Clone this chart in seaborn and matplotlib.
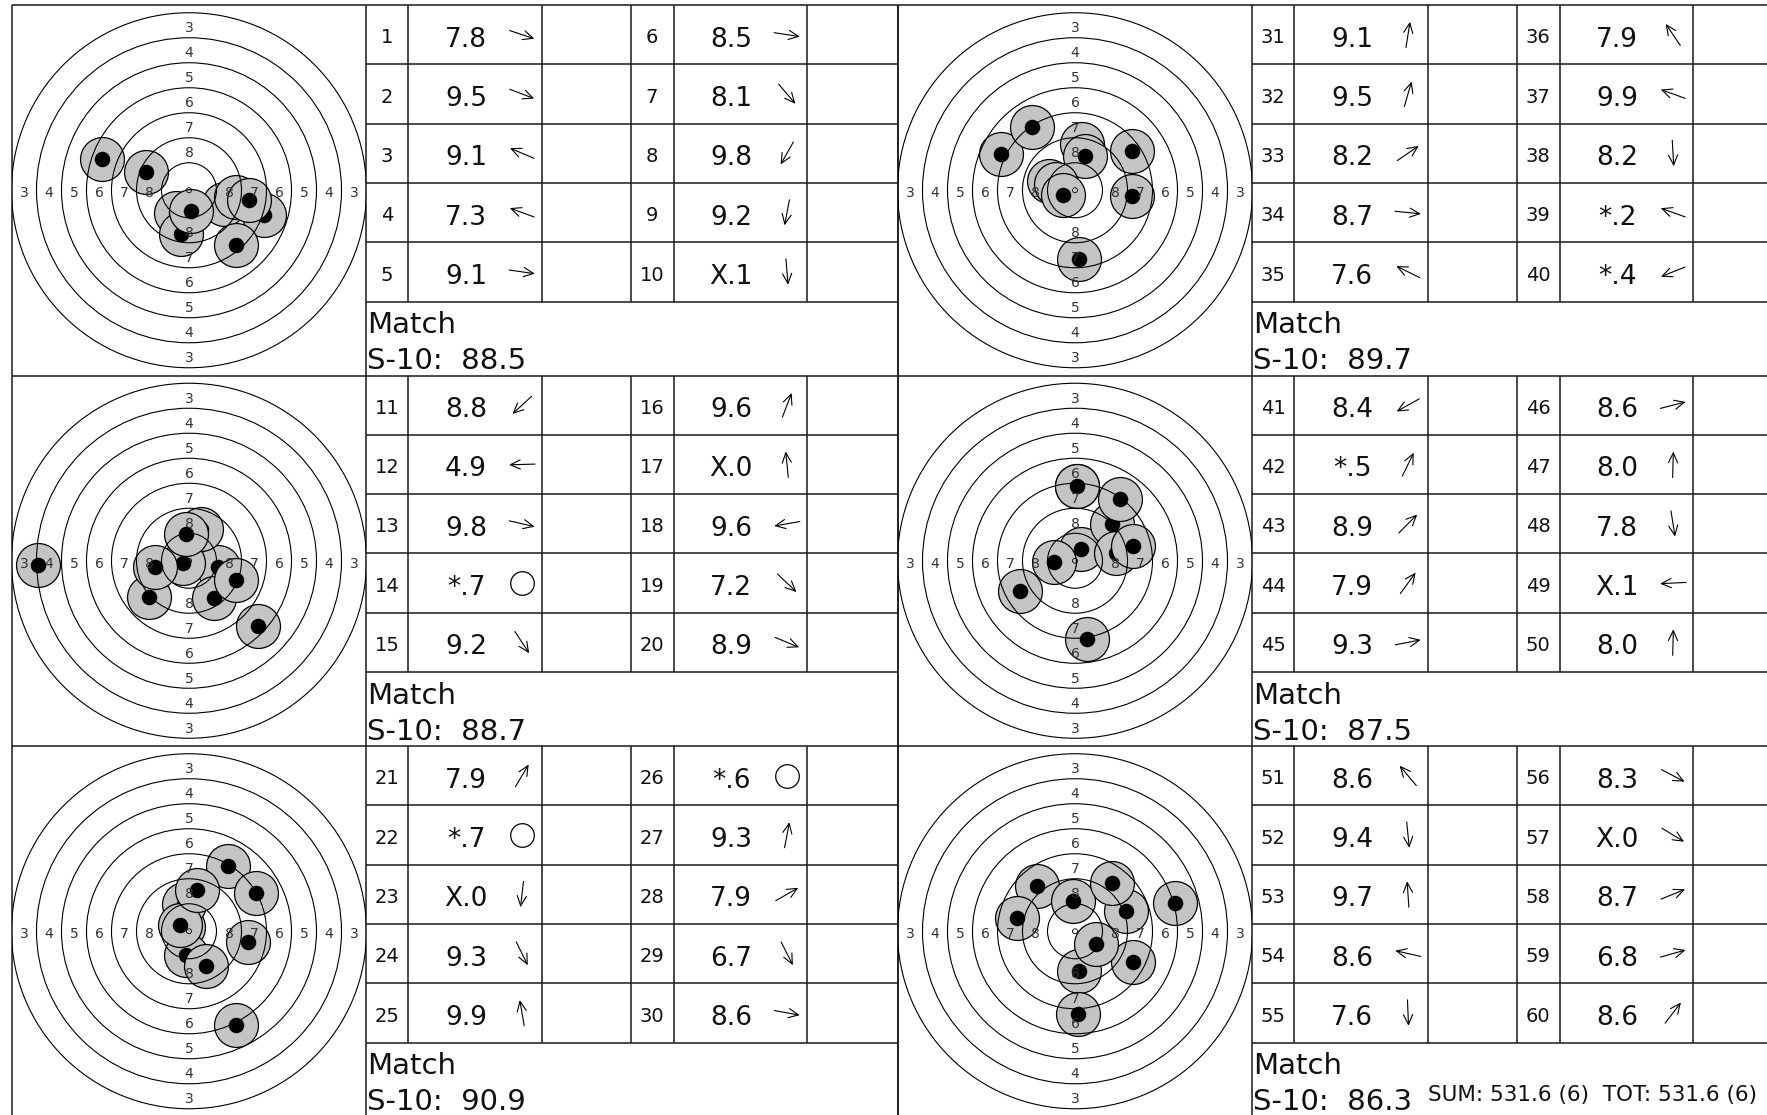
import numpy as np
import matplotlib
matplotlib.use("Agg")
import matplotlib.pyplot as plt
from matplotlib.patches import Circle
import seaborn as sns

# printed shot values (X = ten, * = inner ten)
SCORES = [
    "7.8", "9.5", "9.1", "7.3", "9.1", "8.5", "8.1", "9.8", "9.2", "X.1",
    "8.8", "4.9", "9.8", "*.7", "9.2", "9.6", "X.0", "9.6", "7.2", "8.9",
    "7.9", "*.7", "X.0", "9.3", "9.9", "*.6", "9.3", "7.9", "6.7", "8.6",
    "9.1", "9.5", "8.2", "8.7", "7.6", "7.9", "9.9", "8.2", "*.2", "*.4",
    "8.4", "*.5", "8.9", "7.9", "9.3", "8.6", "8.0", "7.8", "X.1", "8.0",
    "8.6", "9.4", "9.7", "8.6", "7.6", "8.3", "X.0", "8.7", "6.8", "8.6",
]
# hit positions, mm from target centre (x right, y up)
SHOT_X = [
    7.5, 3.5, -4.33, -8.67, 4.67, 6.0, 4.67, -1.3, -0.83, 0.17,
    -4.0, -15.1, 2.9, -0.6, 2.47, 1.23, -0.27, -3.43, 6.9, 4.67,
    3.9, -0.6, -0.27, 1.73, -0.47, -0.9, 0.8, 6.67, 4.73, 5.9,
    0.73, 1.0, 5.73, 5.73, -7.43, -4.27, -2.57, 0.4, -1.87, -1.17,
    -5.5, 0.57, 3.67, 4.5, 4.1, 5.8, 0.23, 1.23, -2.1, 0.17,
    -3.83, 0.4, -0.2, -5.77, 0.33, 5.8, 2.07, 5.13, 10.0, 3.67,
]
SHOT_Y = [
    -2.5, -1.33, 1.83, 3.17, -0.67, -0.93, -5.5, -2.3, -4.33, -2.07,
    -3.67, -0.43, -0.67, -0.27, -3.76, 3.17, 2.67, -0.6, -6.54, -1.93,
    6.5, 0.45, -2.33, -3.5, 2.7, 0.65, 4.17, 3.83, -9.33, -1.07,
    4.6, 3.43, 3.93, -0.57, 3.67, 6.33, 0.93, -6.9, 0.67, -0.47,
    -3.07, 1.17, 3.67, 6.17, 0.8, 1.5, 7.5, -7.83, -0.1, 7.45,
    4.57, -3.98, 3.03, 1.3, -8.3, -3.03, -1.27, 2.07, 2.87, 4.8,
]
SERIES_LABEL = "Match"
RING_NUMBERS = [3, 4, 5, 6, 7, 8]

sns.set_theme(style="white")
plt.rcParams["font.family"] = ["DejaVu Sans"]

W, H = 1767, 1115
PANEL_W, PANEL_H, TGT_W = 886, 370.5, 354
ROW_H = 59.3
COLS = [0, 42, 176, 265, 308, 441, 532]
ORIGINS = [(12, 5), (12, 375.5), (12, 746), (898, 5), (898, 375.5), (898, 746)]
LINE = dict(color="#1a1a1a", lw=1.1, solid_capstyle="butt")


def score_value(s):
    return float(s.replace("X", "10").replace("*", "10"))


def ring_radius(n):
    return 0.25 + (10 - n) * 2.5


fig = plt.figure(figsize=(W / 100, H / 100), dpi=100)
bg = fig.add_axes([0, 0, 1, 1])
bg.set_xlim(0, W)
bg.set_ylim(H, 0)
bg.axis("off")

totals = []
for k, (x0, y0) in enumerate(ORIGINS):
    tx = x0 + TGT_W
    # panel frame
    bg.plot([x0, x0], [y0, y0 + PANEL_H], **LINE)
    bg.plot([x0, x0 + PANEL_W], [y0, y0], **LINE)
    bg.plot([tx, tx], [y0, y0 + PANEL_H], **LINE)
    bg.plot([x0 + PANEL_W] * 2, [y0, y0 + PANEL_H], **LINE)
    for c in COLS[1:-1]:
        bg.plot([tx + c] * 2, [y0, y0 + 5 * ROW_H], **LINE)
    for r in range(1, 6):
        bg.plot([tx, tx + COLS[-1]], [y0 + r * ROW_H] * 2, **LINE)

    # table of shots
    for i in range(10):
        n = k * 10 + i
        base = tx + (COLS[3] if i >= 5 else 0)
        yc = y0 + (i % 5) * ROW_H + ROW_H / 2
        bg.text(base + 21, yc + 8.7, str(n + 1), ha="center", va="baseline",
                fontsize=14, color="#111")
        bg.text(base + 100, yc + 12, SCORES[n], ha="center", va="baseline",
                fontsize=19, color="#111")
        ax_c = base + 156
        if score_value(SCORES[n]) >= 10.6:
            bg.plot(ax_c, yc, marker="o", ms=17, mfc="none", mec="black", mew=0.9)
        else:
            th = np.arctan2(SHOT_Y[n], SHOT_X[n])
            L = 26
            dx, dy = np.cos(th) * L / 2, -np.sin(th) * L / 2
            bg.annotate("", xy=(ax_c + dx, yc + dy), xytext=(ax_c - dx, yc - dy),
                        arrowprops=dict(arrowstyle="->,head_length=0.65,head_width=0.3",
                                        lw=0.8, color="black", shrinkA=0, shrinkB=0,
                                        mutation_scale=11))

    total = sum(score_value(s) for s in SCORES[k * 10:(k + 1) * 10])
    totals.append(total)
    bg.text(tx + 1, y0 + 328, SERIES_LABEL, ha="left", va="baseline",
            fontsize=21, color="#111")
    bg.text(tx + 1, y0 + 364, f"S-10:  {total:.1f}", ha="left", va="baseline",
            fontsize=21, color="#111")

    # target
    ax = fig.add_axes([x0 / W, 1 - (y0 + PANEL_H) / H, TGT_W / W, PANEL_H / H])
    ax.set_xlim(-TGT_W / 20, TGT_W / 20)
    ax.set_ylim(-PANEL_H / 20, PANEL_H / 20)
    ax.axis("off")
    ax.patch.set_alpha(0)
    for n in range(k * 10, (k + 1) * 10):
        sns.scatterplot(x=[SHOT_X[n]], y=[SHOT_Y[n]], s=1000, color="#c4c4c4",
                        edgecolor="black", linewidth=0.9, ax=ax, zorder=2, legend=False)
        sns.scatterplot(x=[SHOT_X[n]], y=[SHOT_Y[n]], s=125, color="black",
                        linewidth=0, ax=ax, zorder=2, legend=False)
    for n in range(3, 10):
        ax.add_patch(Circle((0, 0), ring_radius(n), fill=False, lw=0.8,
                            ec="black", zorder=5))
    ax.add_patch(Circle((0, 0), 0.25, fill=False, lw=0.6, ec="black", zorder=5))
    for n in RING_NUMBERS:
        r = ring_radius(n) - 1.25
        for px, py in [(-r, 0), (r, 0), (0, r), (0, -r)]:
            ax.text(px, py - 0.3, str(n), ha="center", va="center",
                    fontsize=10, color="#333", zorder=6)

grand = sum(totals)
bg.text(1428, 1101, f"SUM: {grand:.1f} ({len(totals)})  TOT: {grand:.1f} ({len(totals)})",
        ha="left", va="baseline", fontsize=15.5, color="#111")

fig.savefig("out.png", dpi=100, facecolor="white")
